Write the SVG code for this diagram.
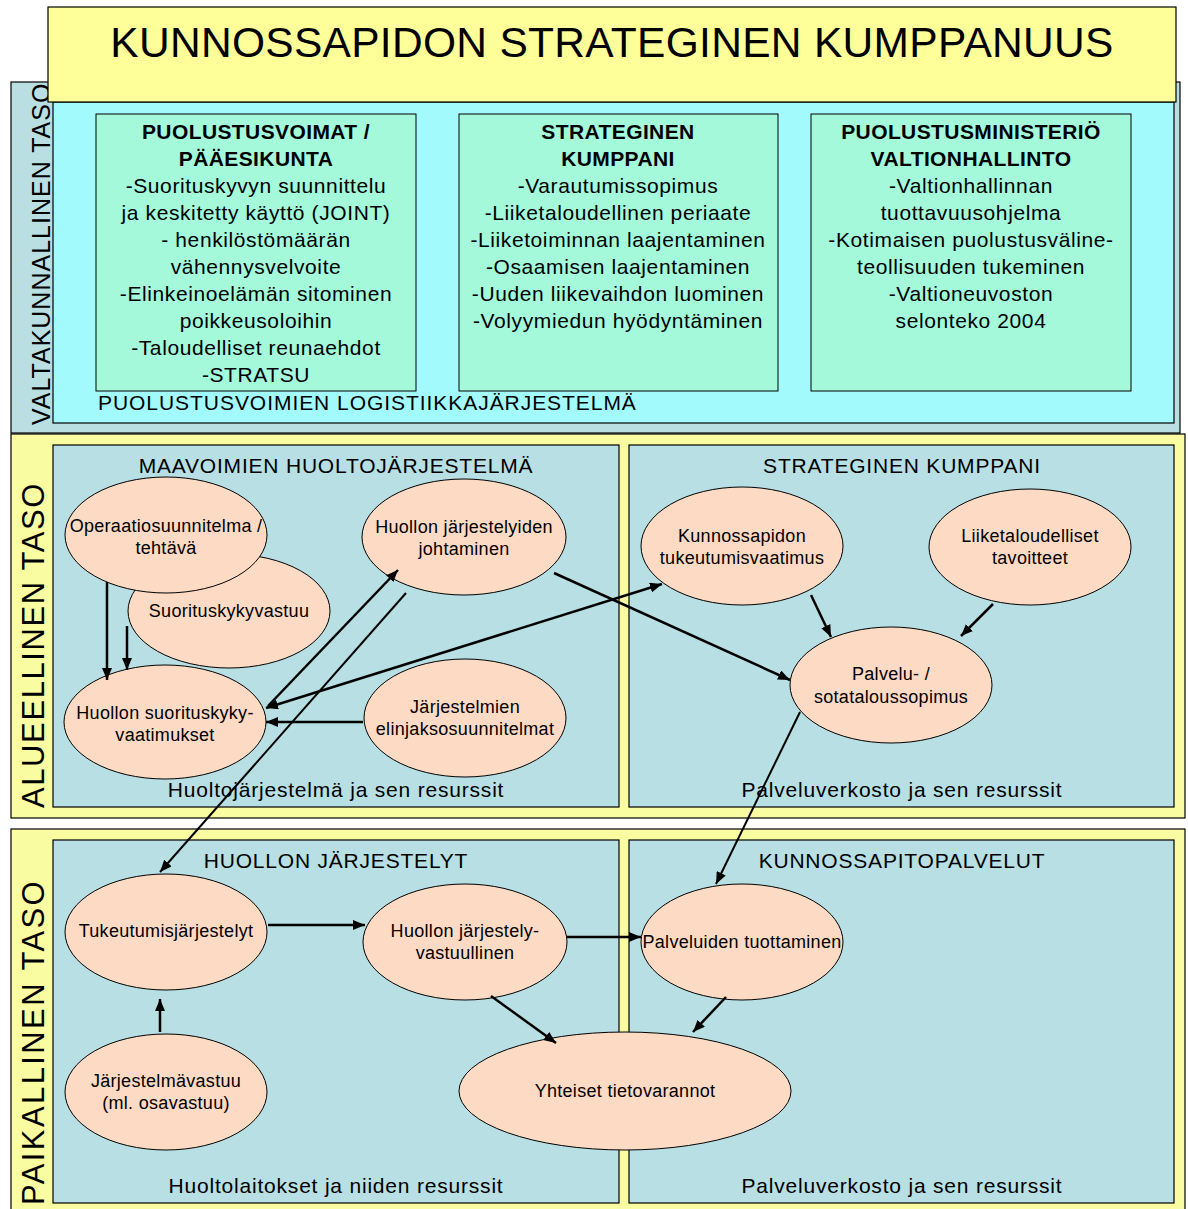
<svg xmlns="http://www.w3.org/2000/svg" width="1188" height="1209" viewBox="0 0 1188 1209">
  <defs>
    <style>
      text { font-family: "Liberation Sans", Arial, sans-serif; fill: #000; }
      .frame { stroke: #000; stroke-width: 1.2; }
      .yellow { fill: #FFFF99; }
      .band { fill: #FAFCA2; }
      .outer { fill: #B9DFE2; }
      .cyan { fill: #A3FAFD; }
      .green { fill: #A3F9DA; stroke: #000; stroke-width: 1; }
      .panel { fill: #B8DFE3; stroke: #000; stroke-width: 1.2; }
      .node ellipse { fill: #FDDAC4; stroke: #000; stroke-width: 1; }
      .node text { font-size: 18px; letter-spacing: 0.3px; text-anchor: middle; }
      .box text { font-size: 21px; letter-spacing: 0.6px; text-anchor: middle; }
      .box text.h { font-weight: bold; letter-spacing: 0.4px; }
      .hdr { font-size: 21px; letter-spacing: 0.8px; text-anchor: middle; }
      .conn line { stroke: #000; stroke-width: 2.5; marker-end: url(#ah); }
      .conn line.thin { stroke-width: 2; }
    </style>
    <marker id="ah" viewBox="0 0 12 10" refX="12" refY="5" markerWidth="12" markerHeight="10" markerUnits="userSpaceOnUse" orient="auto-start-reverse">
      <path d="M0,0 L12,5 L0,10 z" fill="#000"/>
    </marker>
  </defs>

  <rect width="1188" height="1209" fill="#fff"/>

  <!-- national level -->
  <g id="level-national">
    <rect class="outer frame" x="11" y="82" width="1169" height="351"/>
    <rect class="cyan frame" x="53" y="102" width="1121" height="321"/>
    <text x="98" y="410" font-size="21" letter-spacing="0.95">PUOLUSTUSVOIMIEN LOGISTIIKKAJÄRJESTELMÄ</text>
    <text transform="translate(50,425) rotate(-90)" font-size="25" letter-spacing="1">VALTAKUNNALLINEN TASO</text>
  </g>

  <!-- title -->
  <g id="title">
    <rect class="yellow frame" x="48" y="7" width="1128" height="95"/>
    <text x="612" y="57" font-size="42.5" letter-spacing="0.3" text-anchor="middle">KUNNOSSAPIDON STRATEGINEN KUMPPANUUS</text>
  </g>

  <g id="box-puolustusvoimat" class="box">
    <rect class="green" x="96" y="114" width="320" height="277"/>
    <text class="h" x="256" y="139">PUOLUSTUSVOIMAT /</text>
    <text class="h" x="256" y="166">PÄÄESIKUNTA</text>
    <text x="256" y="193">-Suorituskyvyn suunnittelu</text>
    <text x="256" y="220">ja keskitetty käyttö (JOINT)</text>
    <text x="256" y="247">- henkilöstömäärän</text>
    <text x="256" y="274">vähennysvelvoite</text>
    <text x="256" y="301">-Elinkeinoelämän sitominen</text>
    <text x="256" y="328">poikkeusoloihin</text>
    <text x="256" y="355">-Taloudelliset reunaehdot</text>
    <text x="256" y="382">-STRATSU</text>
  </g>

  <g id="box-kumppani" class="box">
    <rect class="green" x="459" y="114" width="319" height="277"/>
    <text class="h" x="618" y="139">STRATEGINEN</text>
    <text class="h" x="618" y="166">KUMPPANI</text>
    <text x="618" y="193">-Varautumissopimus</text>
    <text x="618" y="220">-Liiketaloudellinen periaate</text>
    <text x="618" y="247">-Liiketoiminnan laajentaminen</text>
    <text x="618" y="274">-Osaamisen laajentaminen</text>
    <text x="618" y="301">-Uuden liikevaihdon luominen</text>
    <text x="618" y="328">-Volyymiedun hyödyntäminen</text>
  </g>

  <g id="box-ministerio" class="box">
    <rect class="green" x="811" y="114" width="320" height="277"/>
    <text class="h" x="971" y="139">PUOLUSTUSMINISTERIÖ</text>
    <text class="h" x="971" y="166">VALTIONHALLINTO</text>
    <text x="971" y="193">-Valtionhallinnan</text>
    <text x="971" y="220">tuottavuusohjelma</text>
    <text x="971" y="247">-Kotimaisen puolustusväline-</text>
    <text x="971" y="274">teollisuuden tukeminen</text>
    <text x="971" y="301">-Valtioneuvoston</text>
    <text x="971" y="328">selonteko 2004</text>
  </g>

  <!-- regional level -->
  <g id="level-regional">
    <rect class="band frame" x="11" y="434" width="1174" height="384"/>
    <rect class="panel" x="53" y="445" width="566" height="362"/>
    <rect class="panel" x="629" y="445" width="545" height="362"/>
    <text class="hdr" x="336" y="473">MAAVOIMIEN HUOLTOJÄRJESTELMÄ</text>
    <text class="hdr" x="902" y="473">STRATEGINEN KUMPPANI</text>
    <text class="hdr" x="336" y="797">Huoltojärjestelmä ja sen resurssit</text>
    <text class="hdr" x="902" y="797">Palveluverkosto ja sen resurssit</text>
    <text transform="translate(44,808) rotate(-90)" font-size="31" letter-spacing="1.6">ALUEELLINEN TASO</text>
  </g>

  <!-- local level -->
  <g id="level-local">
    <rect class="band frame" x="11" y="829" width="1174" height="390"/>
    <rect class="panel" x="53" y="840" width="566" height="363"/>
    <rect class="panel" x="629" y="840" width="545" height="363"/>
    <text class="hdr" x="336" y="868">HUOLLON JÄRJESTELYT</text>
    <text class="hdr" x="902" y="868">KUNNOSSAPITOPALVELUT</text>
    <text class="hdr" x="336" y="1193">Huoltolaitokset ja niiden resurssit</text>
    <text class="hdr" x="902" y="1193">Palveluverkosto ja sen resurssit</text>
    <text transform="translate(44,1205) rotate(-90)" font-size="31" letter-spacing="2.4">PAIKALLINEN TASO</text>
  </g>

  <!-- regional nodes -->
  <g id="n-suorituskykyvastuu" class="node">
    <ellipse cx="229" cy="611" rx="101" ry="57"/>
    <text x="229" y="617">Suorituskykyvastuu</text>
  </g>
  <g id="n-operaatiosuunnitelma" class="node">
    <ellipse cx="166" cy="535" rx="101" ry="58"/>
    <text x="166" y="532">Operaatiosuunnitelma /</text>
    <text x="166" y="554">tehtävä</text>
  </g>
  <g id="n-johtaminen" class="node">
    <ellipse cx="464" cy="537" rx="102" ry="58"/>
    <text x="464" y="533">Huollon järjestelyiden</text>
    <text x="464" y="555">johtaminen</text>
  </g>
  <g id="n-suorituskykyvaatimukset" class="node">
    <ellipse cx="165" cy="722" rx="101" ry="57"/>
    <text x="165" y="719">Huollon suorituskyky-</text>
    <text x="165" y="741">vaatimukset</text>
  </g>
  <g id="n-elinjakso" class="node">
    <ellipse cx="465" cy="718" rx="101" ry="59"/>
    <text x="465" y="713">Järjestelmien</text>
    <text x="465" y="735">elinjaksosuunnitelmat</text>
  </g>
  <g id="n-tukeutumisvaatimus" class="node">
    <ellipse cx="742" cy="546" rx="101" ry="59"/>
    <text x="742" y="542">Kunnossapidon</text>
    <text x="742" y="564">tukeutumisvaatimus</text>
  </g>
  <g id="n-tavoitteet" class="node">
    <ellipse cx="1030" cy="547" rx="101" ry="58"/>
    <text x="1030" y="542">Liiketaloudelliset</text>
    <text x="1030" y="564">tavoitteet</text>
  </g>
  <g id="n-sopimus" class="node">
    <ellipse cx="891" cy="685" rx="101" ry="58"/>
    <text x="891" y="680">Palvelu- /</text>
    <text x="891" y="703">sotataloussopimus</text>
  </g>

  <!-- local nodes -->
  <g id="n-tukeutumisjarjestelyt" class="node">
    <ellipse cx="166" cy="932" rx="101" ry="58"/>
    <text x="166" y="937">Tukeutumisjärjestelyt</text>
  </g>
  <g id="n-jarjestelyvastuullinen" class="node">
    <ellipse cx="465" cy="942" rx="102" ry="58"/>
    <text x="465" y="937">Huollon järjestely-</text>
    <text x="465" y="959">vastuullinen</text>
  </g>
  <g id="n-tuottaminen" class="node">
    <ellipse cx="742" cy="942" rx="101" ry="58"/>
    <text x="742" y="948">Palveluiden tuottaminen</text>
  </g>
  <g id="n-jarjestelmavastuu" class="node">
    <ellipse cx="166" cy="1092" rx="101" ry="58"/>
    <text x="166" y="1087">Järjestelmävastuu</text>
    <text x="166" y="1109">(ml. osavastuu)</text>
  </g>
  <g id="n-tietovarannot" class="node">
    <ellipse cx="625" cy="1091" rx="166" ry="59"/>
    <text x="625" y="1097">Yhteiset tietovarannot</text>
  </g>

  <!-- connectors -->
  <g id="connectors" class="conn">
    <line x1="107" y1="582" x2="107" y2="680"/>
    <line x1="127" y1="626" x2="127" y2="670"/>
    <line x1="268" y1="706" x2="398" y2="570"/>
    <line class="thin" x1="406" y1="593" x2="160" y2="872"/>
    <line x1="266" y1="708" x2="662" y2="584" marker-start="url(#ah)"/>
    <line x1="554" y1="573" x2="790" y2="680"/>
    <line x1="363" y1="722" x2="266" y2="722"/>
    <line x1="811" y1="595" x2="831" y2="637"/>
    <line x1="993" y1="604" x2="961" y2="636"/>
    <line class="thin" x1="800" y1="712" x2="716" y2="884"/>
    <line x1="268" y1="925" x2="365" y2="925"/>
    <line x1="160" y1="1032" x2="160" y2="999"/>
    <line x1="566" y1="937" x2="641" y2="937"/>
    <line x1="491" y1="996" x2="556" y2="1043"/>
    <line x1="726" y1="997" x2="693" y2="1032"/>
  </g>
</svg>
